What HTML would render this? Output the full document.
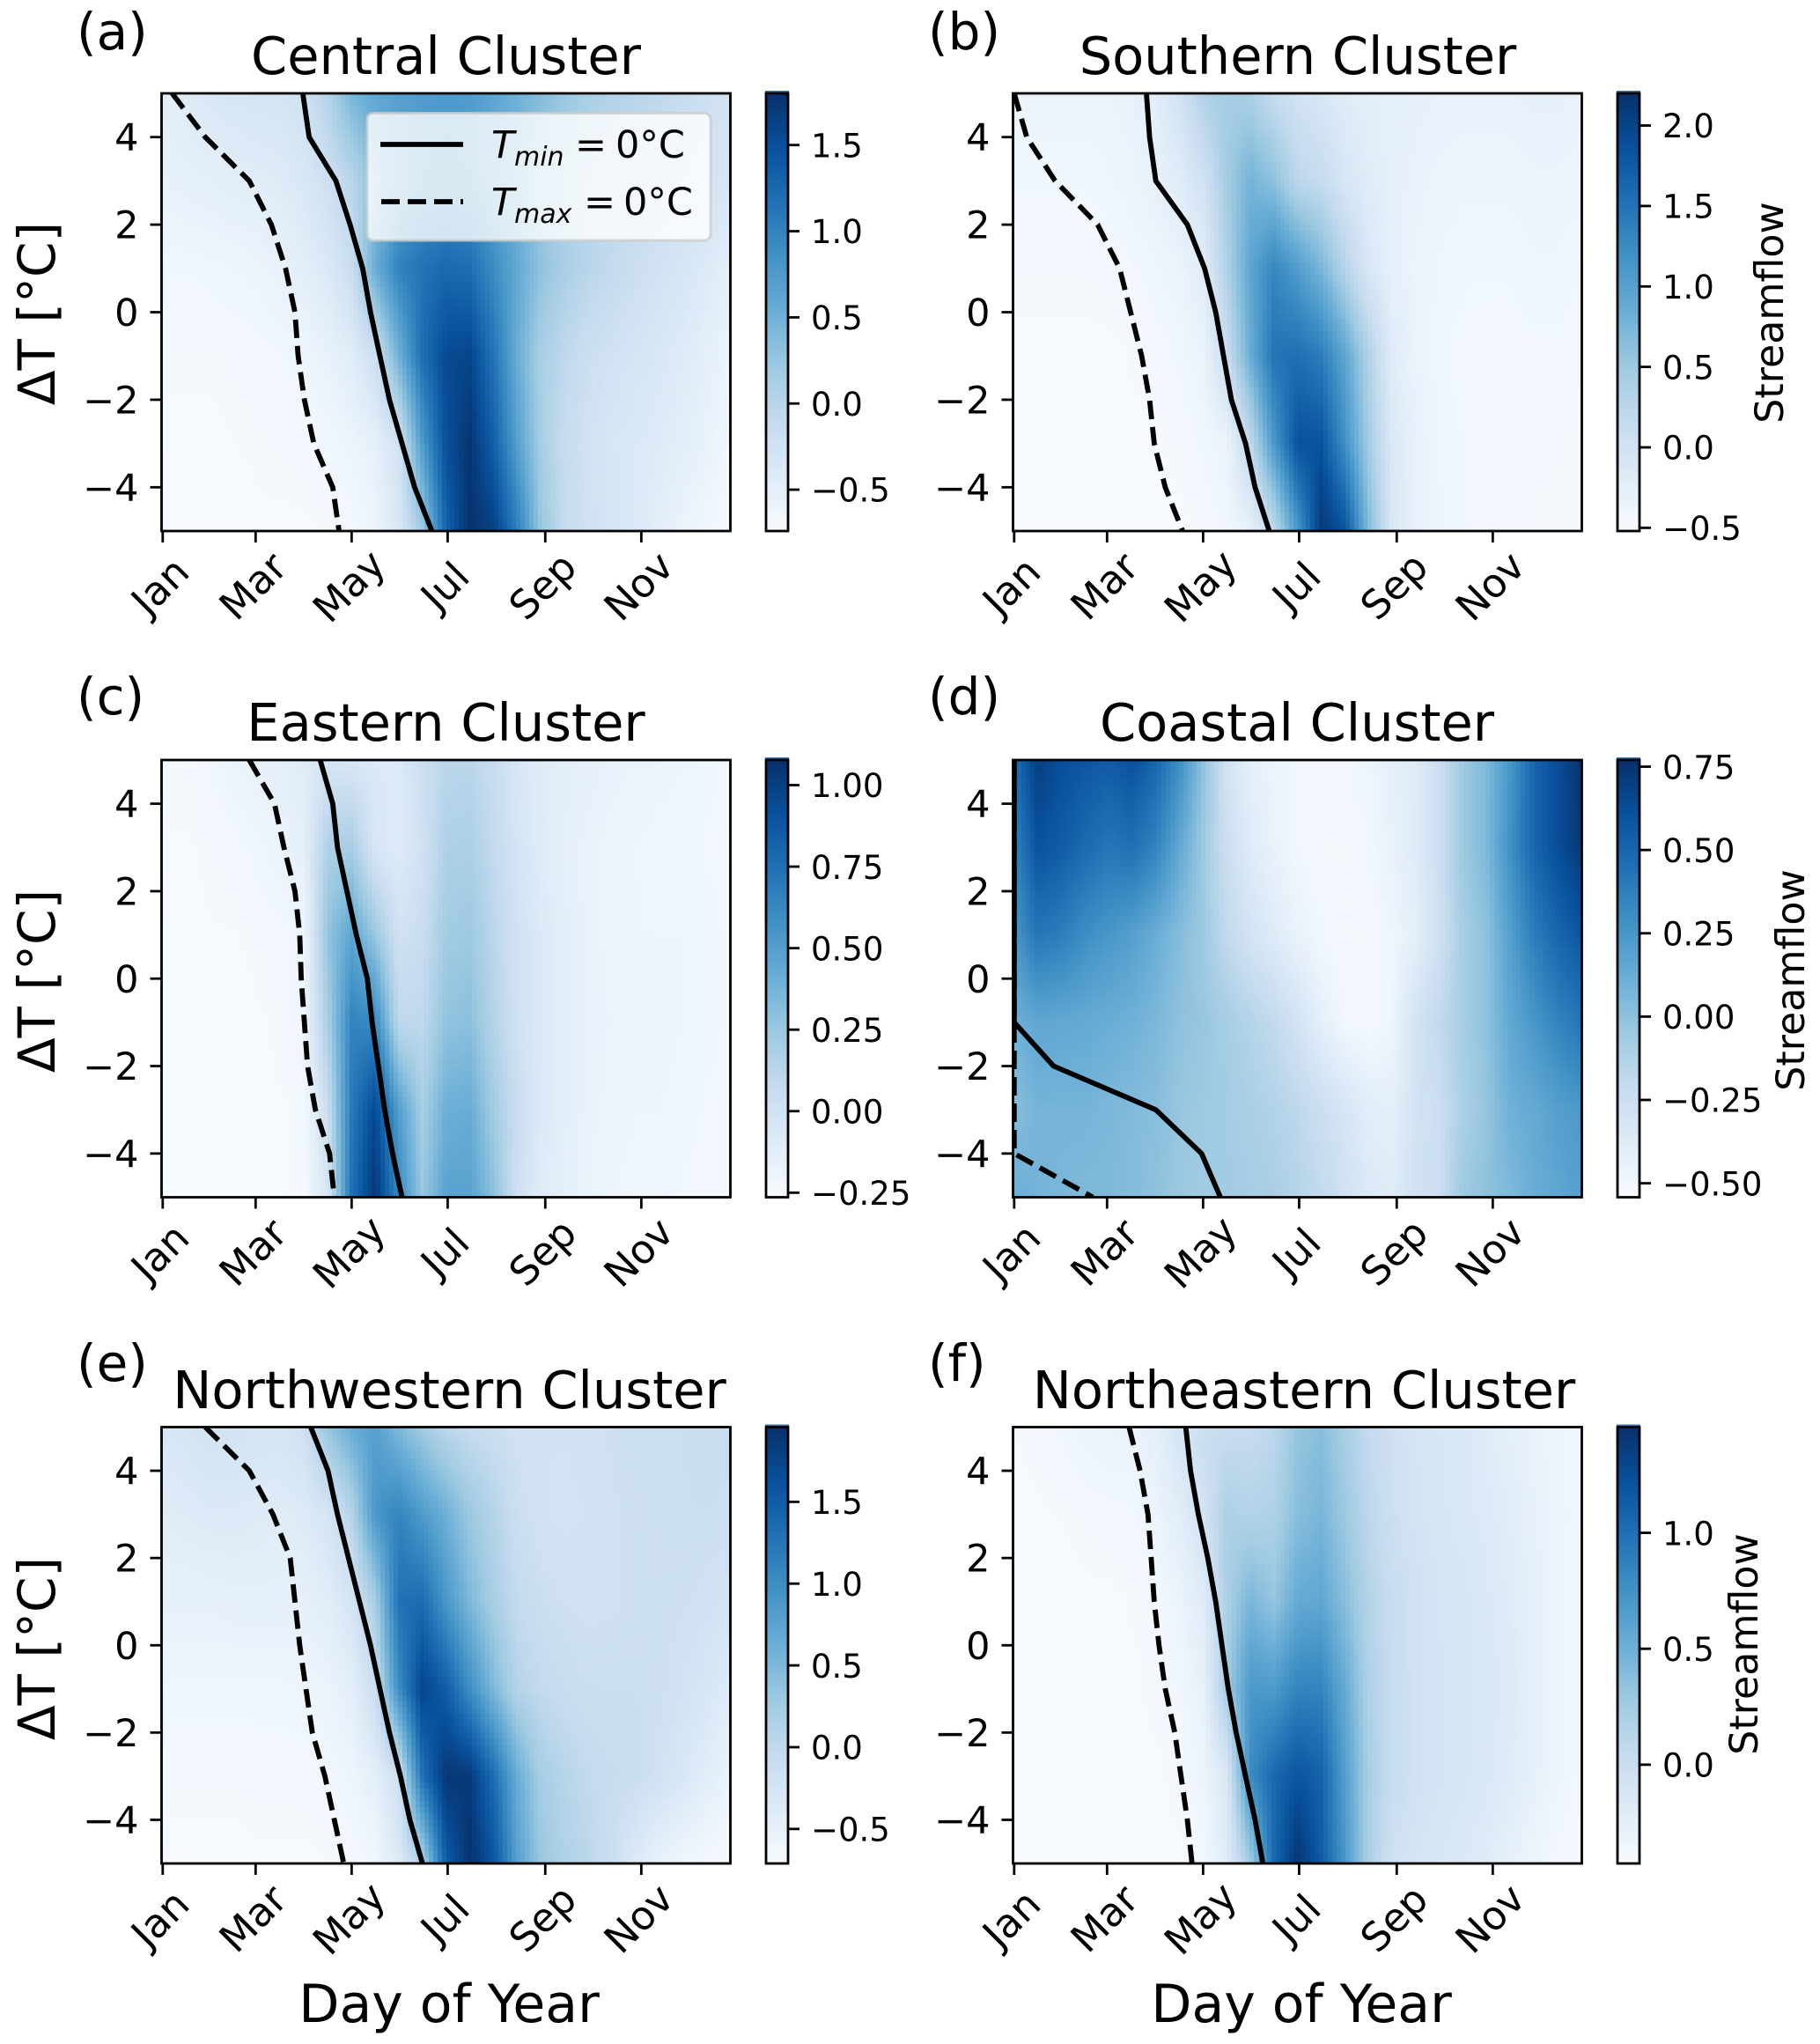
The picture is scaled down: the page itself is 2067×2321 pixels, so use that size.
<!DOCTYPE html>
<html lang="en">
<head>
<meta charset="utf-8">
<title>Streamflow by day of year and temperature change</title>
<style>
html,body{margin:0;padding:0;background:#fff;}
svg{display:block;}
text{font-family:"DejaVu Sans","Liberation Sans",sans-serif;fill:#000;}
.title{font-size:59px;text-anchor:middle;}
.plabel{font-size:58px;}
.axlabel{font-size:58px;text-anchor:middle;}
.xlabel{font-size:60px;text-anchor:middle;}
.cblabel{font-size:44.3px;text-anchor:middle;}
.legtext{font-size:43px;}
.legsub{font-size:30px;font-style:italic;}
.it{font-style:italic;}
</style>
</head>
<body>
<svg id="chart" xmlns="http://www.w3.org/2000/svg" width="2067" height="2321" viewBox="0 0 2067 2321">
  <rect x="0" y="0" width="2067" height="2321" fill="#fff"/>

  <g id="panel-a">
    <g class="marks"></g>
    <text class="plabel" x="87" y="56">(a)</text>
    <text class="title" x="506.5" y="84">Central Cluster</text>
    <text class="axlabel" transform="translate(62,356) rotate(-90)">ΔT [°C]</text>
  </g>
  <g id="panel-b">
    <g class="marks"></g>
    <text class="plabel" x="1054" y="56">(b)</text>
    <text class="title" x="1474" y="84">Southern Cluster</text>
    <text class="cblabel" transform="translate(2025,355) rotate(-90)">Streamflow</text>
  </g>
  <g id="panel-c">
    <g class="marks"></g>
    <text class="plabel" x="87" y="811">(c)</text>
    <text class="title" x="506.5" y="841">Eastern Cluster</text>
    <text class="axlabel" transform="translate(62,1114) rotate(-90)">ΔT [°C]</text>
  </g>
  <g id="panel-d">
    <g class="marks"></g>
    <text class="plabel" x="1054" y="811">(d)</text>
    <text class="title" x="1473" y="841">Coastal Cluster</text>
    <text class="cblabel" transform="translate(2049,1113) rotate(-90)">Streamflow</text>
  </g>
  <g id="panel-e">
    <g class="marks"></g>
    <text class="plabel" x="87" y="1568">(e)</text>
    <text class="title" x="510.5" y="1599">Northwestern Cluster</text>
    <text class="axlabel" transform="translate(62,1872) rotate(-90)">ΔT [°C]</text>
    <text class="xlabel" x="510" y="2296">Day of Year</text>
  </g>
  <g id="panel-f">
    <g class="marks"></g>
    <text class="plabel" x="1054" y="1568">(f)</text>
    <text class="title" x="1481" y="1599">Northeastern Cluster</text>
    <text class="cblabel" transform="translate(1996,1867) rotate(-90)">Streamflow</text>
    <text class="xlabel" x="1478" y="2296">Day of Year</text>
  </g>

  <g id="legend">
    <rect x="417" y="128.5" width="390" height="144.5" rx="7" ry="7" fill="#fff" fill-opacity="0.8" stroke="#ccc" stroke-opacity="0.8" stroke-width="3"/>
    <line x1="432" y1="164" x2="526" y2="164" stroke="#000" stroke-width="5.8"/>
    <line x1="433" y1="229" x2="526" y2="229" stroke="#000" stroke-width="5.8" stroke-dasharray="21 9"/>
    <text class="legtext" y="179"><tspan class="it" x="558">T</tspan><tspan class="legsub" x="584" dy="9">min</tspan><tspan x="653" dy="-9">=</tspan><tspan x="699">0°C</tspan></text>
    <text class="legtext" y="244"><tspan class="it" x="558">T</tspan><tspan class="legsub" x="584" dy="9">max</tspan><tspan x="663" dy="-9">=</tspan><tspan x="708">0°C</tspan></text>
  </g>
</svg>

<script>
// ---- shared axes data ----
const streamDays = [1,16,31,46,61,76,91,106,121,136,151,166,181,196,211,226,241,256,271,286,301,316,331,346,361];
const streamLevels = [5,3,1,-1,-3,-5];
const lineLevels = [5,4,3,2,1,0,-1,-2,-3,-4,-5];
const monthDays = [1,60,121,182,244,305];
const monthLabels = ['Jan','Mar','May','Jul','Sep','Nov'];
const deltaTicks = [4,2,0,-2,-4];

// ---- (a) Central ----
const streamA = [
[-.48,-.42,-.36,-.32,-.30,-.30,-.22,.05,.45,.62,.68,.72,.75,.72,.62,.5,.36,.24,.12,.05,.0,-.05,-.12,-.2,-.25],
[-.55,-.52,-.5,-.47,-.45,-.42,-.35,-.2,.0,.35,.65,.8,.85,.8,.65,.45,.25,.1,.0,-.05,-.1,-.15,-.2,-.25,-.32],
[-.65,-.65,-.64,-.62,-.6,-.55,-.48,-.38,-.15,.55,1.0,1.15,1.25,1.2,.9,.6,.3,.12,.0,-.08,-.18,-.25,-.32,-.4,-.5],
[-.7,-.7,-.7,-.69,-.68,-.66,-.62,-.55,-.45,-.2,.5,1.2,1.55,1.6,1.15,.55,.12,-.05,-.18,-.25,-.3,-.35,-.42,-.5,-.6],
[-.72,-.72,-.72,-.71,-.7,-.69,-.68,-.65,-.6,-.52,-.25,.75,1.5,1.75,1.35,.7,.15,-.12,-.25,-.33,-.38,-.42,-.48,-.55,-.65],
[-.73,-.73,-.73,-.73,-.72,-.72,-.72,-.7,-.68,-.6,-.35,.2,1.3,1.78,1.65,1.05,.25,-.1,-.22,-.3,-.38,-.48,-.58,-.65,-.7]
];
const tminA = [90,94,111,120,128,133,139,145,153,161,172];
const tmaxA = [7,28,56,70,79,85,87,91,97,109,113];
const ticksA = [-0.5,0,0.5,1,1.5];
const labelsA = ['−0.5','0.0','0.5','1.0','1.5'];

// ---- (b) Southern ----
const streamB = [
[-.36,-.36,-.36,-.36,-.35,-.32,-.22,-.0,.35,.45,.38,.15,.0,-.1,-.2,-.25,-.28,-.3,-.32,-.32,-.32,-.32,-.3,-.3,-.32],
[-.42,-.42,-.42,-.42,-.4,-.36,-.3,-.2,.0,.45,.78,.6,.25,.15,-.08,-.2,-.28,-.33,-.36,-.38,-.38,-.38,-.36,-.36,-.38],
[-.47,-.47,-.47,-.47,-.46,-.44,-.4,-.35,-.22,.35,.95,1.3,1.05,.75,.3,-.1,-.28,-.36,-.4,-.42,-.42,-.42,-.4,-.4,-.43],
[-.5,-.5,-.5,-.5,-.5,-.48,-.46,-.42,-.35,.1,.85,1.5,1.55,1.4,.95,.35,-.2,-.35,-.42,-.44,-.45,-.45,-.44,-.44,-.46],
[-.51,-.51,-.51,-.51,-.51,-.5,-.49,-.47,-.42,-.36,.2,1.1,1.85,1.85,1.2,.45,-.12,-.3,-.4,-.43,-.45,-.46,-.47,-.47,-.48],
[-.52,-.52,-.52,-.52,-.52,-.52,-.51,-.5,-.47,-.42,-.3,.2,1.1,2.1,1.85,.7,-.1,-.3,-.38,-.42,-.45,-.46,-.47,-.48,-.49]
];
const tminB = [85,87,91,111,122,129,134,139,148,154,163];
const tmaxB = [1,9,27,54,68,75,82,87,90,97,108];
const ticksB = [-0.5,0,0.5,1,1.5,2];
const labelsB = ['−0.5','0.0','0.5','1.0','1.5','2.0'];

// ---- (c) Eastern ----
const streamC = [
[-.24,-.24,-.22,-.18,-.16,-.14,-.1,-.04,-.05,-.08,-.08,.03,.12,.12,.05,-.05,-.1,-.13,-.15,-.17,-.18,-.19,-.2,-.21,-.22],
[-.25,-.25,-.24,-.23,-.21,-.18,-.14,.18,.2,-.05,-.1,.0,.17,.18,.08,-.03,-.1,-.14,-.17,-.19,-.2,-.21,-.21,-.22,-.23],
[-.26,-.26,-.25,-.25,-.24,-.23,-.2,.28,.46,.25,.0,.05,.22,.24,.12,.0,-.08,-.13,-.17,-.19,-.2,-.2,-.2,-.21,-.22],
[-.26,-.26,-.26,-.26,-.25,-.24,-.2,.2,.65,.62,.1,.1,.28,.3,.15,.0,-.08,-.13,-.17,-.18,-.19,-.19,-.2,-.21,-.22],
[-.26,-.26,-.26,-.26,-.26,-.25,-.23,.05,.7,.95,.5,.2,.4,.42,.22,.05,-.08,-.13,-.17,-.19,-.2,-.2,-.21,-.22,-.23],
[-.26,-.26,-.26,-.26,-.26,-.25,-.24,-.05,.75,1.05,.62,.25,.48,.48,.3,.02,-.1,-.14,-.18,-.2,-.21,-.21,-.22,-.23,-.24]
];
const tminC = [101,109,112,118,124,131,134,138,142,147,153];
const tmaxC = [56,72,78,85,88,89,91,93,98,107,110];
const ticksC = [-0.25,0,0.25,0.5,0.75,1];
const labelsC = ['−0.25','0.00','0.25','0.50','0.75','1.00'];

// ---- (d) Coastal ----
const streamD = [
[.45,.7,.62,.58,.55,.6,.5,.3,.0,-.3,-.42,-.47,-.5,-.5,-.5,-.48,-.42,-.38,-.25,-.05,.05,.25,.5,.62,.76],
[.35,.6,.55,.48,.42,.45,.35,.15,-.05,-.25,-.38,-.45,-.5,-.52,-.52,-.5,-.45,-.38,-.25,-.05,.05,.28,.5,.62,.72],
[.25,.42,.38,.3,.25,.2,.12,.03,-.05,-.2,-.3,-.38,-.45,-.5,-.52,-.52,-.48,-.42,-.28,-.08,.0,.2,.38,.5,.58],
[.1,.16,.15,.14,.12,.1,.06,.0,-.03,-.08,-.14,-.2,-.3,-.42,-.5,-.52,-.48,-.3,-.2,-.08,.0,.15,.25,.35,.42],
[.02,.08,.08,.08,.06,.04,.02,-.03,-.05,-.07,-.1,-.13,-.18,-.25,-.32,-.4,-.42,-.3,-.25,-.1,-.02,.1,.14,.2,.24],
[.12,.08,.06,.05,.05,.03,.0,-.04,-.06,-.07,-.08,-.1,-.14,-.2,-.28,-.36,-.38,-.28,-.25,-.05,-.0,.05,.12,.16,.2]
];
const tminD = [1,1,1,1,1,1,1,26,91,120,132];
const tmaxD = [1,1,1,1,1,1,1,1,1,1,51];
const ticksD = [-0.5,-0.25,0,0.25,0.5,0.75];
const labelsD = ['−0.50','−0.25','0.00','0.25','0.50','0.75'];

// ---- (e) Northwestern ----
const streamE = [
[-.3,-.25,-.2,-.2,-.25,-.25,-.15,.35,.65,.8,.5,.25,.05,-.05,-.12,-.18,-.2,-.2,-.18,-.15,-.12,-.12,-.12,-.1,-.1],
[-.4,-.38,-.35,-.35,-.37,-.4,-.36,-.25,.1,.9,1.1,.85,.6,.3,.1,-.12,-.2,-.22,-.2,-.17,-.14,-.13,-.12,-.12,-.13],
[-.5,-.5,-.5,-.48,-.47,-.48,-.48,-.42,-.25,.2,1.3,1.35,.9,.5,.2,-.03,-.12,-.16,-.18,-.17,-.15,-.14,-.15,-.18,-.22],
[-.6,-.6,-.6,-.6,-.6,-.6,-.58,-.55,-.45,-.1,1.0,1.75,1.5,1.0,.5,.1,-.02,-.08,-.12,-.12,-.12,-.14,-.2,-.28,-.38],
[-.66,-.66,-.66,-.66,-.65,-.65,-.65,-.62,-.58,-.45,-.15,1.3,1.9,1.85,1.35,.65,.22,.08,-.02,-.07,-.1,-.18,-.3,-.42,-.55],
[-.7,-.7,-.7,-.7,-.69,-.69,-.69,-.68,-.66,-.62,-.35,.15,1.5,1.93,1.6,.8,.32,.15,.05,-.12,-.35,-.52,-.6,-.65,-.68]
];
const tminE = [95,106,112,119,126,133,139,145,152,158,166];
const tmaxE = [28,56,71,82,85,88,92,96,104,110,116];
const ticksE = [-0.5,0,0.5,1,1.5];
const labelsE = ['−0.5','0.0','0.5','1.0','1.5'];

// ---- (f) Northeastern ----
const streamF = [
[-.4,-.38,-.36,-.32,-.3,-.3,-.25,-.1,.0,.02,.03,.1,.32,.38,.22,.05,-.04,-.1,-.13,-.15,-.2,-.25,-.3,-.33,-.36],
[-.42,-.41,-.4,-.39,-.38,-.37,-.32,-.22,-.08,.2,.15,.18,.38,.45,.28,.1,-.02,-.08,-.12,-.14,-.18,-.22,-.28,-.32,-.36],
[-.42,-.42,-.42,-.41,-.41,-.4,-.37,-.32,-.2,.2,.45,.32,.55,.58,.38,.15,.02,-.05,-.1,-.12,-.15,-.2,-.26,-.32,-.37],
[-.42,-.42,-.42,-.42,-.42,-.41,-.39,-.36,-.28,.25,.7,.68,.85,.85,.55,.18,.03,-.05,-.09,-.12,-.14,-.18,-.25,-.32,-.37],
[-.42,-.42,-.42,-.42,-.42,-.42,-.41,-.39,-.33,-.15,.8,1.05,1.2,1.1,.65,.22,.03,-.05,-.09,-.12,-.15,-.2,-.27,-.33,-.38],
[-.42,-.42,-.42,-.42,-.42,-.42,-.42,-.41,-.38,-.2,.25,1.05,1.43,1.15,.7,.2,-.04,-.1,-.13,-.16,-.2,-.27,-.33,-.38,-.4]
];
const tminF = [110,113,118,124,129,133,137,142,148,154,159];
const tmaxF = [74,81,86,88,90,93,97,103,107,111,114];
const ticksF = [0,0.5,1];
const labelsF = ['0.0','0.5','1.0'];

// ---- colour limits per panel ----
const limitsA = [-0.74,1.80];
const limitsB = [-0.52,2.20];
const limitsC = [-0.264,1.077];
const limitsD = [-0.542,0.77];
const limitsE = [-0.711,1.957];
const limitsF = [-0.426,1.456];

// matplotlib "Blues" anchor colours
const bluesStops = [[247,251,255],[222,235,247],[198,219,239],[158,202,225],[107,174,214],[66,146,198],[33,113,181],[8,81,156],[8,48,107]];

const SVGNS = 'http://www.w3.org/2000/svg';
const panels = [
  {id:'panel-a',key:'a',stream:streamA,tmin:tminA,tmax:tmaxA,ticks:ticksA,labels:labelsA,limits:limitsA,left:183.5,right:829.5,jan:184.8,top:106,bottom:603,cbL:870,cbR:895},
  {id:'panel-b',key:'b',stream:streamB,tmin:tminB,tmax:tmaxB,ticks:ticksB,labels:labelsB,limits:limitsB,left:1150.5,right:1796.5,jan:1151.8,top:106,bottom:603,cbL:1837,cbR:1862},
  {id:'panel-c',key:'c',stream:streamC,tmin:tminC,tmax:tmaxC,ticks:ticksC,labels:labelsC,limits:limitsC,left:183.5,right:829.5,jan:184.8,top:863,bottom:1359.5,cbL:870,cbR:895},
  {id:'panel-d',key:'d',stream:streamD,tmin:tminD,tmax:tmaxD,ticks:ticksD,labels:labelsD,limits:limitsD,left:1150.5,right:1796.5,jan:1151.8,top:863,bottom:1359.5,cbL:1837,cbR:1862},
  {id:'panel-e',key:'e',stream:streamE,tmin:tminE,tmax:tmaxE,ticks:ticksE,labels:labelsE,limits:limitsE,left:183.5,right:829.5,jan:184.8,top:1620.5,bottom:2116,cbL:870,cbR:895},
  {id:'panel-f',key:'f',stream:streamF,tmin:tminF,tmax:tmaxF,ticks:ticksF,labels:labelsF,limits:limitsF,left:1150.5,right:1796.5,jan:1151.8,top:1620.5,bottom:2116,cbL:1837,cbR:1862}
];
const PX_PER_DAY = 1.788;
const CELLS_X = 130;
const CELLS_Y = 70;
const COLORBAR_STEPS = 100;

function xScale(p,day){ return p.jan + (day-1)*PX_PER_DAY; }
function dayFromX(p,x){ return (x-p.jan)/PX_PER_DAY + 1; }
function yScale(p,dT){ return p.top + (5-dT)/10*(p.bottom-p.top); }
function dTFromY(p,y){ return 5 - (y-p.top)/(p.bottom-p.top)*10; }
function blues(t){
  t = Math.max(0,Math.min(1,t))*(bluesStops.length-1);
  const i = Math.min(bluesStops.length-2,Math.floor(t)), f = t-i;
  const a = bluesStops[i], b = bluesStops[i+1];
  return 'rgb('+Math.round(a[0]+(b[0]-a[0])*f)+','+Math.round(a[1]+(b[1]-a[1])*f)+','+Math.round(a[2]+(b[2]-a[2])*f)+')';
}
function colorOf(p,v){ return blues((v-p.limits[0])/(p.limits[1]-p.limits[0])); }
function lowerIndex(arr,value,descending){
  for(let i=0;i<arr.length-1;i++){
    if(descending ? value>=arr[i+1] : value<arr[i+1]) return i;
  }
  return arr.length-2;
}
function sampleStream(p,day,dT){
  const d = Math.max(streamDays[0],Math.min(streamDays[streamDays.length-1],day));
  const i = lowerIndex(streamDays,d,false);
  const j = lowerIndex(streamLevels,dT,true);
  const fx = (d-streamDays[i])/(streamDays[i+1]-streamDays[i]);
  const fy = (streamLevels[j]-dT)/(streamLevels[j]-streamLevels[j+1]);
  const r0 = p.stream[j][i]*(1-fx)+p.stream[j][i+1]*fx;
  const r1 = p.stream[j+1][i]*(1-fx)+p.stream[j+1][i+1]*fx;
  return r0*(1-fy)+r1*fy;
}
function mk(parent,tag,attrs){
  const el = document.createElementNS(SVGNS,tag);
  for(const k in attrs) el.setAttribute(k,attrs[k]);
  parent.appendChild(el);
  return el;
}

panels.forEach(function(p){
  const root = document.querySelector('#'+p.id+' .marks');

  // clip for series lines
  const defs = mk(root,'defs',{});
  const clip = mk(defs,'clipPath',{id:'clip-'+p.key});
  mk(clip,'rect',{x:p.left,y:p.top,width:p.right-p.left,height:p.bottom-p.top});

  // heatmap cells
  const heat = mk(root,'g',{'shape-rendering':'crispEdges'});
  
  
  const w = p.right-p.left, h = p.bottom-p.top;
  for(let j=0;j<CELLS_Y;j++){
    const y0 = Math.round(p.top+j*h/CELLS_Y), y1 = Math.round(p.top+(j+1)*h/CELLS_Y);
    const dT = dTFromY(p,(y0+y1)/2);
    for(let i=0;i<CELLS_X;i++){
      const x0 = Math.round(p.left+i*w/CELLS_X), x1 = Math.round(p.left+(i+1)*w/CELLS_X);
      const v = sampleStream(p,dayFromX(p,(x0+x1)/2),dT);
      const cell = mk(heat,'rect',{x:x0,y:y0,width:x1-x0,height:y1-y0,fill:colorOf(p,v)});
      
      
    }
  }

  // Tmin / Tmax freezing lines
  function linePoints(series){
    return series.map(function(day,k){ return xScale(p,day).toFixed(1)+','+yScale(p,lineLevels[k]).toFixed(1); }).join(' ');
  }
  const tminLine = mk(root,'polyline',{points:linePoints(p.tmin),fill:'none',stroke:'#000','stroke-width':5.8,'stroke-linejoin':'round','clip-path':'url(#clip-'+p.key+')'});
  
  
  const tmaxLine = mk(root,'polyline',{points:linePoints(p.tmax),fill:'none',stroke:'#000','stroke-width':5.8,'stroke-dasharray':'21 9','clip-path':'url(#clip-'+p.key+')'});
  
  

  // axes frame
  const frame = mk(root,'rect',{x:p.left,y:p.top,width:w,height:h,fill:'none',stroke:'#000','stroke-width':2.8});
  
  

  // x ticks
  monthDays.forEach(function(day,k){
    const x = xScale(p,day);
    const tick = mk(root,'line',{x1:x,y1:p.bottom,x2:x,y2:p.bottom+13,stroke:'#000','stroke-width':2.8});
    
    
    const label = mk(root,'text',{'font-size':45,'text-anchor':'middle',transform:'translate('+(x-2.5)+','+(p.bottom+63)+') rotate(-45)',y:15});
    
    
    label.textContent = monthLabels[k];
  });

  // y ticks
  deltaTicks.forEach(function(dT){
    const y = yScale(p,dT);
    const tick = mk(root,'line',{x1:p.left-13,y1:y,x2:p.left,y2:y,stroke:'#000','stroke-width':2.8});
    
    
    const label = mk(root,'text',{'font-size':43,'text-anchor':'end',x:p.left-26,y:y+15.5});
    
    
    label.textContent = (dT<0?'−':'')+Math.abs(dT);
  });

  // colour bar
  const bar = mk(root,'g',{'shape-rendering':'crispEdges'});
  
  
  for(let s=0;s<COLORBAR_STEPS;s++){
    const y0 = Math.round(p.top+s*h/COLORBAR_STEPS), y1 = Math.round(p.top+(s+1)*h/COLORBAR_STEPS);
    const v = p.limits[1]-(s+0.5)/COLORBAR_STEPS*(p.limits[1]-p.limits[0]);
    const seg = mk(bar,'rect',{x:p.cbL,y:y0,width:p.cbR-p.cbL,height:y1-y0,fill:colorOf(p,v)});
    
    
  }
  const barTop = mk(root,'rect',{x:p.cbL-1,y:p.top-3,width:p.cbR-p.cbL+2,height:2,fill:'#3a76ab'});
  
  
  const barFrame = mk(root,'rect',{x:p.cbL,y:p.top,width:p.cbR-p.cbL,height:h,fill:'none',stroke:'#000','stroke-width':2.8});
  
  
  p.ticks.forEach(function(v,k){
    const y = p.bottom-(v-p.limits[0])/(p.limits[1]-p.limits[0])*h;
    const tick = mk(root,'line',{x1:p.cbR,y1:y,x2:p.cbR+13,y2:y,stroke:'#000','stroke-width':2.8});
    
    
    const label = mk(root,'text',{'font-size':37,x:p.cbR+26,y:y+13.7});
    
    
    label.textContent = p.labels[k];
  });
});
</script>
</body>
</html>
